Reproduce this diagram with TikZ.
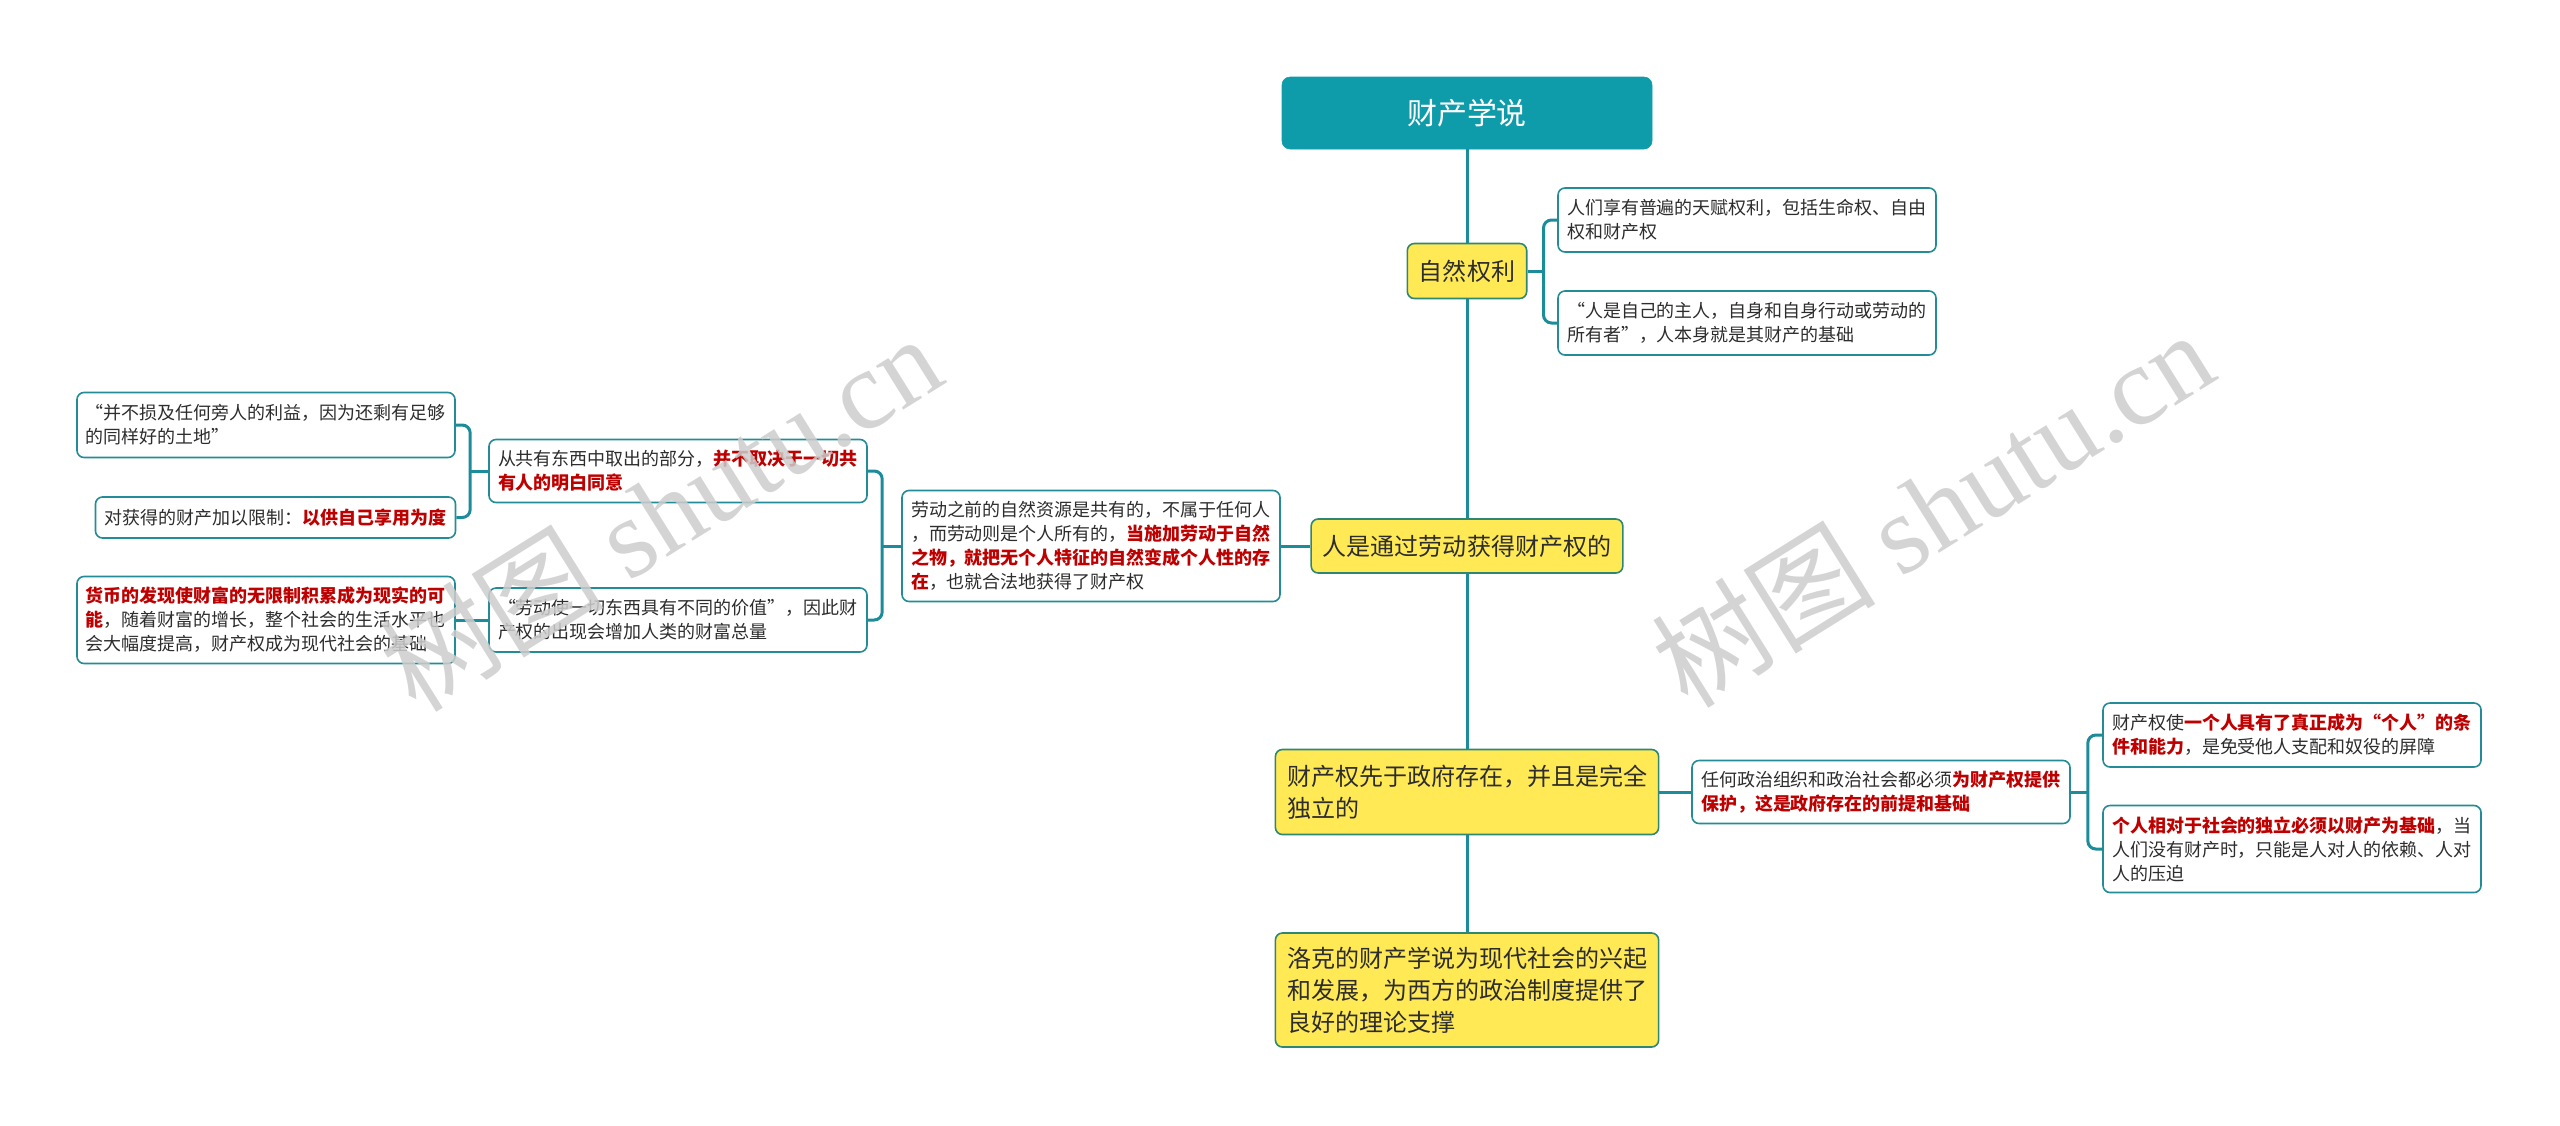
\documentclass[tikz,border=0pt]{standalone}
\usepackage{fontspec}
\usepackage{xcolor}
\setmainfont{Noto Sans CJK SC}[RawFeature=+fwid]
\newfontfamily\wmcjk{Noto Sans CJK SC}
\newfontfamily\wmserif{Liberation Serif}
\usetikzlibrary{positioning}

\definecolor{rootteal}{RGB}{14,155,170}
\definecolor{linkteal}{RGB}{28,140,155}
\definecolor{leafline}{RGB}{35,140,150}
\definecolor{mainfill}{RGB}{255,233,85}
\definecolor{mainline}{RGB}{45,135,115}
\definecolor{keyred}{RGB}{190,0,0}
\definecolor{bodytext}{RGB}{45,45,45}
\definecolor{markgray}{RGB}{205,205,205}

\newcommand{\keypart}[1]{\textcolor{keyred}{\bfseries #1}}
\newcommand{\rootfont}{\fontsize{21.3pt}{25pt}\selectfont}
\newcommand{\branchfont}{\fontsize{17.1pt}{22.8pt}\selectfont}
\newcommand{\leaffont}{\fontsize{12.8pt}{17.1pt}\selectfont}
\newcommand{\markfont}{\fontsize{80pt}{84pt}\selectfont}

\begin{document}
\begin{tikzpicture}[
    x=0.25mm, y=-0.25mm,
    rootbox/.style={rectangle, draw=rootteal, fill=rootteal, rounded corners=2mm, minimum width=92.5mm, minimum height=18mm, text=white, font=\rootfont},
    branch/.style={rectangle, draw=mainline, line width=0.4mm, fill=mainfill, rounded corners=1.75mm, text=bodytext, font=\branchfont, inner xsep=2.9mm, inner ysep=1mm},
    leaf/.style={rectangle, draw=leafline, line width=0.4mm, fill=white, rounded corners=1.75mm, text=bodytext, font=\leaffont, text width=90mm, align=left, inner xsep=2.25mm, inner ysep=1mm},
    link/.style={draw=linkteal, line width=0.75mm},
    bus/.style={link, rounded corners=2mm},
    wmark/.style={text=markgray, text opacity=0.85, font=\markfont, rotate=32}
]
\useasboundingbox (0,0) rectangle (2560,1125);

% Root and main branches
\node[rootbox] (root) at (1467,113) {财产学说};
\node[branch, minimum width=29mm, minimum height=13.75mm] (natural) at (1467,271) {自然权利};
\node[branch, minimum width=76.5mm, minimum height=13.5mm] (labour) at (1467,546) {人是通过劳动获得财产权的};
\node[branch, text width=90mm, align=left, minimum height=21.25mm] (prior) at (1467,792) {财产权先于政府存在，并且是完全\\独立的};
\node[branch, text width=90mm, align=left, minimum height=28.5mm] (locke) at (1467,990) {洛克的财产学说为现代社会的兴起\\和发展，为西方的政治制度提供了\\良好的理论支撑};

% Natural rights
\node[leaf, minimum height=16mm] (natural_a) at (1747,220) {人们享有普遍的天赋权利，包括生命权、自由\\权和财产权};
\node[leaf, minimum height=16mm] (natural_b) at (1747,323) {“人是自己的主人，自身和自身行动或劳动的\\所有者”，人本身就是其财产的基础};

% Labour
\node[leaf, minimum height=27.75mm] (labour_a) at (1091,546) {劳动之前的自然资源是共有的，不属于任何人\\，而劳动则是个人所有的，\keypart{当施加劳动于自然}\\\keypart{之物，就把无个人特征的自然变成个人性的存}\\\keypart{在}，也就合法地获得了财产权};
\node[leaf, minimum height=15.75mm] (common) at (678,471) {从共有东西中取出的部分，\keypart{并不取决于一切共}\\\keypart{有人的明白同意}};
\node[leaf, minimum height=16mm] (value) at (678,620) {“劳动使一切东西具有不同的价值”，因此财\\产权的出现会增加人类的财富总量};
\node[leaf, minimum height=16.25mm] (common_a) at (266,425) {“并不损及任何旁人的利益，因为还剩有足够\\的同样好的土地”};
\node[leaf, text width=85.5mm, minimum height=10.25mm] (common_b) at (275.5,517.5) {对获得的财产加以限制：\keypart{以供自己享用为度}};
\node[leaf, minimum height=21.75mm] (money) at (266,620) {\keypart{货币的发现使财富的无限制积累成为现实的可}\\\keypart{能}，随着财富的增长，整个社会的生活水平也\\会大幅度提高，财产权成为现代社会的基础};

% Property before government
\node[leaf, minimum height=15.75mm] (protect) at (1881,792) {任何政治组织和政治社会都必须\keypart{为财产权提供}\\\keypart{保护，这是政府存在的前提和基础}};
\node[leaf, minimum height=16mm] (protect_a) at (2292,735) {财产权使\keypart{一个人具有了真正成为“个人”的条}\\\keypart{件和能力}，是免受他人支配和奴役的屏障};
\node[leaf, minimum height=21.75mm] (protect_b) at (2292,849) {\keypart{个人相对于社会的独立必须以财产为基础}，当\\人们没有财产时，只能是人对人的依赖、人对\\人的压迫};

% Connections
\draw[link] (root.south) -- (natural.north);
\draw[link] (natural.south) -- (labour.north);
\draw[link] (labour.south) -- (prior.north);
\draw[link] (prior.south) -- (locke.north);

\draw[link] (natural.east) -- ++(16,0) coordinate (natural_bus);
\draw[bus] (natural_bus) |- (natural_a.west);
\draw[bus] (natural_bus) |- (natural_b.west);

\draw[link] (labour.west) -- (labour_a.east);
\draw[link] (labour_a.west) -- ++(-19,0) coordinate (labour_bus);
\draw[bus] (labour_bus) |- (common.east);
\draw[bus] (labour_bus) |- (value.east);
\draw[link] (common.west) -- ++(-18,0) coordinate (common_bus);
\draw[bus] (common_bus) |- (common_a.east);
\draw[bus] (common_bus) |- (common_b.east);
\draw[link] (value.west) -- (money.east);

\draw[link] (prior.east) -- (protect.west);
\draw[link] (protect.east) -- ++(17,0) coordinate (protect_bus);
\draw[bus] (protect_bus) |- (protect_a.west);
\draw[bus] (protect_bus) |- (protect_b.west);

% Watermarks
\node[wmark] (mark_left) at (660,512) {\wmcjk 树图 \wmserif shutu.cn};
\node[wmark] (mark_right) at (1932,508) {\wmcjk 树图 \wmserif shutu.cn};

\end{tikzpicture}
\end{document}
